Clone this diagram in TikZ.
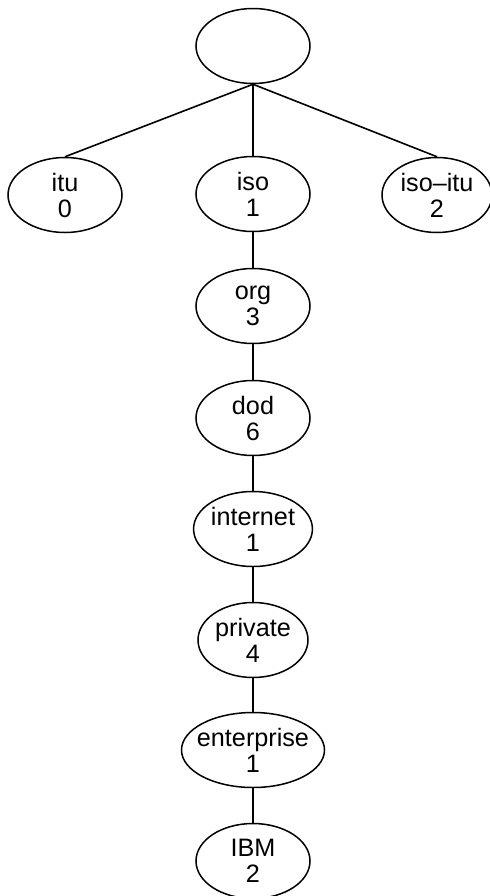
\documentclass[tikz,border=0pt]{standalone}
\usepackage{fontspec}
\setmainfont{Liberation Sans}
\usepackage{tikz}
\usetikzlibrary{positioning,shapes}

\begin{document}
\begin{tikzpicture}[x=0.5pt,y=-0.5pt]
\tikzstyle{every node}+=[inner sep=0pt]
\tikzstyle{oid}=[draw,ellipse,line width=0.75pt,minimum width=57pt,minimum height=37.5pt,align=center,font=\fontsize{12.6}{13}\selectfont]
\tikzstyle{edge}=[line width=0.8pt]
\useasboundingbox (0,0) rectangle (490,896);
\node [oid] (root) at (253,46) {};
\node [oid] (itu) at (65,195) {itu\\0};
\node [oid] (iso) at (253,194) {iso\\1};
\node [oid,minimum width=55pt] (isoitu) at (437,195) {iso–itu\\2};
\node [oid] (org) at (253,306) {org\\3};
\node [oid] (dod) at (253,418) {dod\\6};
\node [oid] (internet) at (253,529) {internet\\1};
\node [oid,minimum width=55pt] (private) at (253,640) {private\\4};
\node [oid,minimum width=71.5pt,inner xsep=-5pt] (enterprise) at (253,750) {enterprise\\1};
\node [oid] (ibm) at (253,861) {IBM\\2};
\draw [edge] (root.south) -- (itu.north);
\draw [edge] (root.south) -- (iso.north);
\draw [edge] (root.south) -- (isoitu.north);
\draw [edge] (iso.south) -- (org.north);
\draw [edge] (org.south) -- (dod.north);
\draw [edge] (dod.south) -- (internet.north);
\draw [edge] (internet.south) -- (private.north);
\draw [edge] (private.south) -- (enterprise.north);
\draw [edge] (enterprise.south) -- (ibm.north);
\end{tikzpicture}
\end{document}
